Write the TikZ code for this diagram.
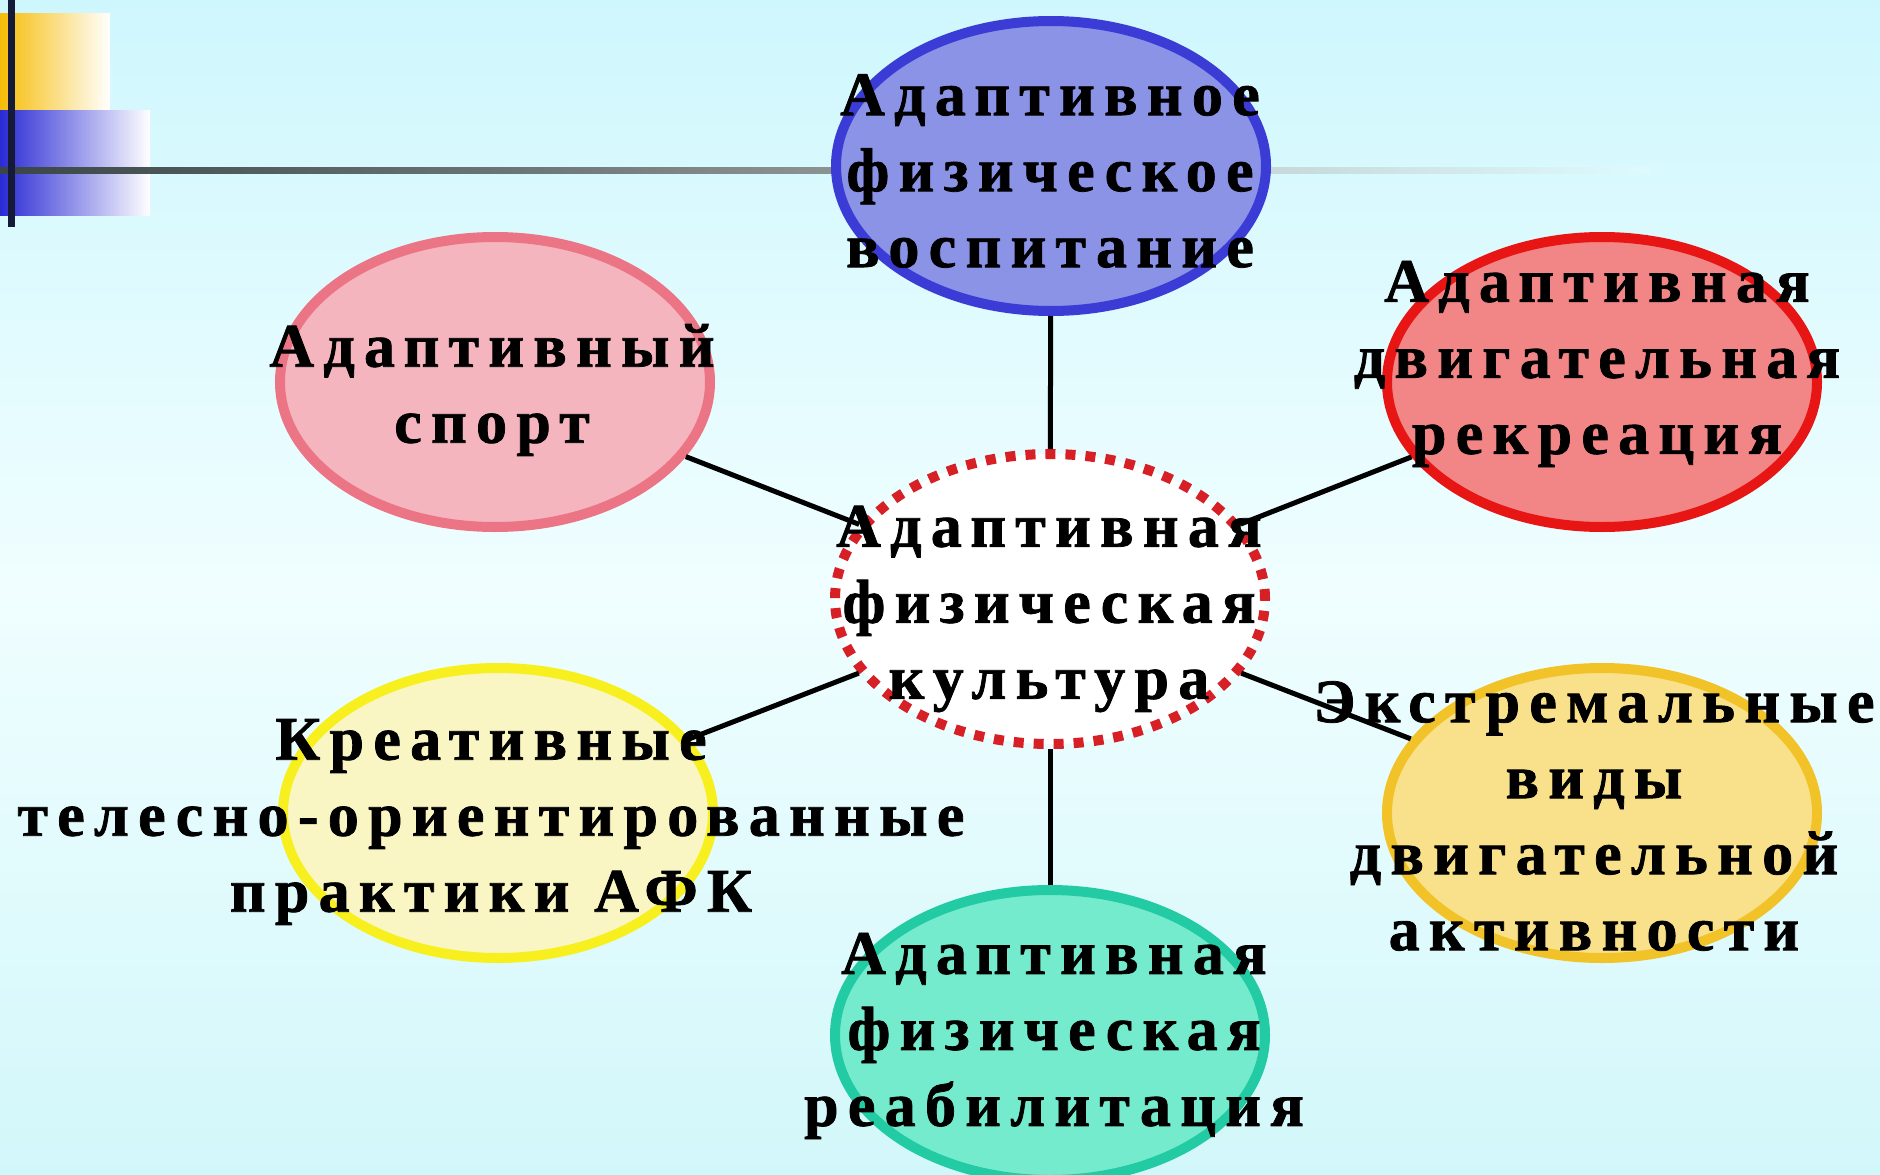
\documentclass[tikz,border=0pt]{standalone}
\usepackage{fontspec}
\setmainfont{Liberation Serif}[LetterSpace=15, BoldFeatures={FakeBold=1.2}]
\usetikzlibrary{shapes.geometric}
\definecolor{bgtop}{HTML}{CEF7FD}
\definecolor{bgmid}{HTML}{F0FEFF}
\definecolor{bgbot}{HTML}{D2F7FA}
\definecolor{bluefill}{HTML}{8A93E6}
\definecolor{blueline}{HTML}{3B3BD6}
\definecolor{pinkfill}{HTML}{F5B5BE}
\definecolor{pinkline}{HTML}{EC7585}
\definecolor{redfill}{HTML}{F28585}
\definecolor{redline}{HTML}{E81515}
\definecolor{ylfill}{HTML}{FAF6C4}
\definecolor{ylline}{HTML}{F7F01E}
\definecolor{yrfill}{HTML}{F8E18A}
\definecolor{yrline}{HTML}{F2C328}
\definecolor{grfill}{HTML}{74EBCD}
\definecolor{grline}{HTML}{22CBA3}
\definecolor{dotred}{HTML}{D71F26}
\definecolor{decoyellow}{HTML}{F6BD08}
\definecolor{decoblue}{HTML}{2B2BD5}
\definecolor{decoline}{HTML}{141A38}
\definecolor{hline}{HTML}{3A4646}
\definecolor{hlinelight}{HTML}{C2D2D2}
\tikzset{
  oval/.style={ellipse, minimum width=430pt, minimum height=290pt, inner sep=0pt, line width=10pt},
  centeroval/.style={oval, draw=dotred, fill=white, dash pattern=on 10pt off 10pt},
  link/.style={line width=5pt, black},
  lbl/.style={align=center, inner sep=0pt, font=\bfseries\fontsize{62}{76}\selectfont, text=black}
}
\begin{document}
\begin{tikzpicture}[x=1pt,y=-1pt]
\useasboundingbox (0,0) rectangle (1880,1175);
% background
\shade[top color=bgtop, bottom color=bgbot, middle color=bgmid] (0,0) rectangle (1880,1175);
% top-left decoration
\shade[left color=decoyellow, right color=white] (0,13) rectangle (110,110);
\shade[left color=decoblue, right color=white] (0,110) rectangle (150,215);
\shade[left color=hline, right color=hline!55!white] (0,167) rectangle (900,173);
\shade[left color=hlinelight, right color=bgtop!50!bgmid] (1200,167) rectangle (1650,173);
\fill[decoline] (8,0) rectangle (15,227);
% ovals
\node[oval, draw=blueline, fill=bluefill] (afv) at (1051,166) {};
\node[oval, draw=pinkline, fill=pinkfill] (as) at (495,382) {};
\node[oval, draw=redline, fill=redfill] (adr) at (1602,382) {};
\node[centeroval] (afk) at (1050,599) {};
\node[oval, draw=ylline, fill=ylfill] (kto) at (498,813) {};
\node[oval, draw=yrline, fill=yrfill] (evda) at (1602,813) {};
\node[oval, draw=grline, fill=grfill] (afr) at (1050,1035) {};
% connectors
\draw[link] (afv) -- (afk);
\draw[link] (as) -- (afk);
\draw[link] (adr) -- (afk);
\draw[link] (kto) -- (afk);
\draw[link] (evda) -- (afk);
\draw[link] (afr) -- (afk);
% labels
\node[lbl] (tafv) at (1050,171) {Адаптивное\\физическое\\воспитание};
\node[lbl] (tas) at (492,390) {Адаптивный\\спорт};
\node[lbl] (tadr) at (1597,364) {Адаптивная\\двигательная\\рекреация};
\node[lbl] (tafk) at (1049,609) {Адаптивная\\физическая\\культура};
\node[lbl] (tkto) at (491,822) {Креативные\\телесно-ориентированные\\практики АФК};
\node[lbl] (tevda) at (1594,816) {Экстремальные\\виды\\двигательной\\активности};
\node[lbl] (tafr) at (1054,1036) {Адаптивная\\физическая\\реабилитация};
\end{tikzpicture}
\end{document}
